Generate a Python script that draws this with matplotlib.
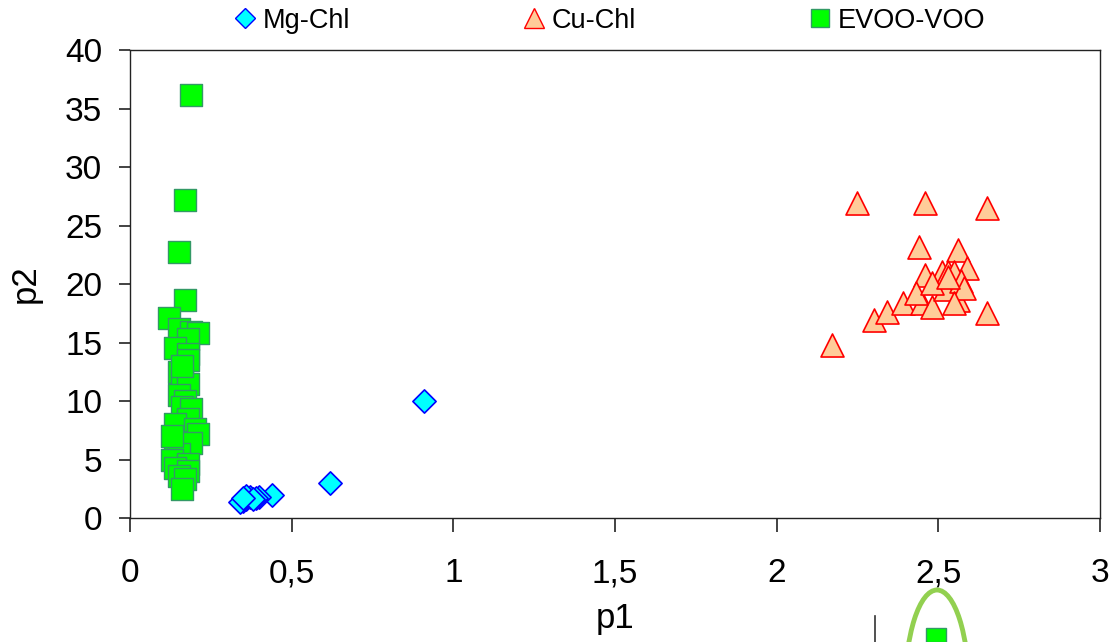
import matplotlib
matplotlib.use('Agg')
import matplotlib.pyplot as plt
from matplotlib.ticker import FuncFormatter
from matplotlib.patches import Ellipse, Rectangle
from matplotlib.lines import Line2D

plt.rcParams['font.family'] = ['Liberation Sans', 'DejaVu Sans']

# Mg-Chl (diamonds)
mg_x = [0.91, 0.62, 0.44, 0.40, 0.39, 0.37, 0.36, 0.35, 0.34, 0.36, 0.38, 0.35]
mg_y = [10.0, 3.0, 2.0, 1.8, 1.7, 1.8, 1.6, 1.5, 1.4, 1.9, 1.6, 1.7]

# Cu-Chl (triangles)
cu_x = [2.25, 2.46, 2.65, 2.44, 2.56, 2.17, 2.30, 2.34, 2.39, 2.65, 2.45, 2.48,
        2.52, 2.59, 2.46, 2.43, 2.56, 2.51, 2.53, 2.55, 2.57, 2.58, 2.48, 2.55, 2.53]
cu_y = [26.9, 26.9, 26.5, 23.2, 22.9, 14.8, 16.9, 17.6, 18.4, 17.5, 18.4, 18.0,
        19.6, 21.4, 20.8, 19.2, 18.6, 21.0, 21.0, 21.0, 20.3, 19.7, 20.1, 18.4, 20.6]

# EVOO-VOO (squares)
ev_x = [0.19, 0.17, 0.15, 0.17, 0.12, 0.15, 0.19, 0.21, 0.18, 0.14, 0.18, 0.18,
        0.15, 0.16, 0.18, 0.15, 0.17, 0.16, 0.19, 0.18, 0.14, 0.20, 0.21, 0.14,
        0.19, 0.15, 0.13, 0.18, 0.14, 0.18, 0.15, 0.17, 0.16, 0.13, 0.16]
ev_y = [36.2, 27.2, 22.7, 18.6, 17.1, 16.2, 15.9, 15.8, 15.3, 14.5, 14.0, 13.5,
        12.5, 11.8, 11.5, 10.5, 10.0, 9.5, 9.3, 8.5, 8.0, 7.6, 7.2, 6.5,
        6.4, 5.5, 5.0, 4.6, 4.3, 4.0, 3.6, 3.3, 2.5, 7.0, 13.0]

fig = plt.figure(figsize=(11.14, 6.42), dpi=100)
ax = fig.add_axes([0.1167, 0.193, 0.8707, 0.729])

ax.scatter(mg_x, mg_y, marker='D', s=140, facecolor='#00FFFF', edgecolor='#0000FF',
           linewidth=1.2, label='Mg-Chl', zorder=3)
ax.scatter(cu_x, cu_y, marker='^', s=275, facecolor='#FFCC99', edgecolor='#FF0000',
           linewidth=1.2, label='Cu-Chl', zorder=3)
ax.scatter(ev_x, ev_y, marker='s', s=230, facecolor='#00FF00', edgecolor='#339966',
           linewidth=1.0, label='EVOO-VOO', zorder=3)

ax.set_xlim(0, 3)
ax.set_ylim(0, 40)
ax.set_xticks([0, 0.5, 1, 1.5, 2, 2.5, 3])
ax.set_yticks(range(0, 41, 5))
ax.xaxis.set_major_formatter(FuncFormatter(lambda v, p: ('%g' % v).replace('.', ',')))
ax.tick_params(axis='both', labelsize=24, direction='out', width=1.2, color='#222222')
ax.tick_params(axis='x', length=10, pad=19)
ax.tick_params(axis='y', length=8, pad=12)
for s in ax.spines.values():
    s.set_linewidth(1.0)
    s.set_color('#222222')
ax.set_xlabel('p1', fontsize=25, labelpad=9)
ax.set_ylabel('p2', fontsize=25, labelpad=17)

handles = [
    Line2D([], [], linestyle='none', marker='D', markersize=10, markerfacecolor='#00FFFF',
           markeredgecolor='#0000FF'),
    Line2D([], [], linestyle='none', marker='^', markersize=15, markerfacecolor='#FFCC99',
           markeredgecolor='#FF0000'),
    Line2D([], [], linestyle='none', marker='s', markersize=13, markerfacecolor='#00FF00',
           markeredgecolor='#339966'),
]
fig.legend(handles, ['Mg-Chl', 'Cu-Chl', 'EVOO-VOO'], loc='center', ncol=3,
           bbox_to_anchor=(0.546, 0.968), frameon=False, fontsize=19.5,
           handletextpad=0.15, columnspacing=6.3, handlelength=1.0)

# partial annotation cut off at the bottom edge
W, H = 1114.0, 642.0
fig.add_artist(Ellipse((937 / W, 1 - 690 / H), 64 / W, 200 / H, transform=fig.transFigure,
                       fill=False, edgecolor='#92D050', linewidth=3.5))
fig.add_artist(Rectangle((926 / W, 0), 20 / W, 14 / H, transform=fig.transFigure,
                         facecolor='#00FF00', edgecolor='#339966', linewidth=1))
fig.add_artist(Line2D([875 / W, 875 / W], [0, 26 / H], transform=fig.transFigure,
                      color='#333333', linewidth=1.2))

fig.savefig('out.png', dpi=100)
